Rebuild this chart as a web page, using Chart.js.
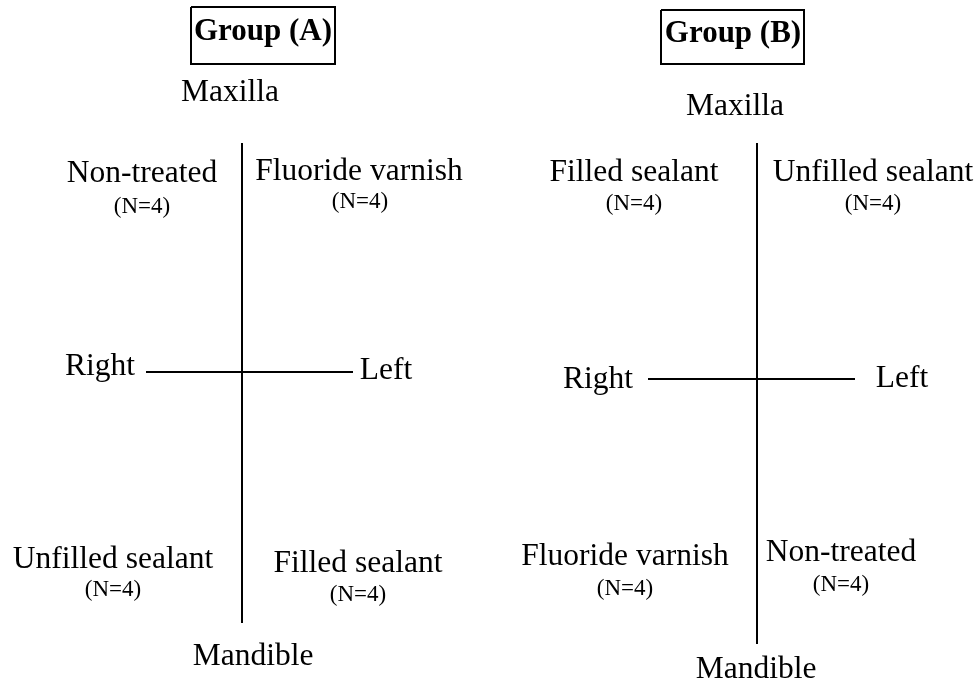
<!DOCTYPE html>
<html>
<head>
<meta charset="utf-8">
<script src="https://cdn.jsdelivr.net/npm/chart.js@4"></script>
<style>
  body { margin: 0; background: #fff; }
  canvas { display: block; }
</style>
</head>
<body>
<canvas id="canvas" width="979" height="682"></canvas>
<script>
// diagram space = the picture, x 0..979, y 0..682 (y counted downwards)

// the two crosses (Maxilla/Mandible vertical, Right/Left horizontal)
var crossA = { vx: 242, vTop: 143, vBottom: 623, hy: 372, hLeft: 146, hRight: 353 };
var crossB = { vx: 757, vTop: 143, vBottom: 644, hy: 379, hLeft: 648, hRight: 855 };

// boxes around group titles [left, top, right, bottom]
var boxA = [191, 7, 335, 64];
var boxB = [661, 10, 804, 64];

// titles
var titleTexts = ['Group (A)', 'Group (B)'];
var titleX = [263, 733];
var titleY = [40, 42];

// big labels (text, centre x, baseline y)
var labelTexts = [
  'Maxilla', 'Non-treated', 'Fluoride varnish', 'Right', 'Left', 'Unfilled sealant', 'Filled sealant', 'Mandible',
  'Maxilla', 'Filled sealant', 'Unfilled sealant', 'Right', 'Left', 'Fluoride varnish', 'Non-treated', 'Mandible'
];
var labelX = [230, 142, 359, 100, 386, 113, 358, 253,
              735, 634, 873, 598, 902, 625, 841, 756];
var labelY = [101, 182, 180, 375, 379, 568, 572, 665,
              115, 181, 181, 388, 387, 565, 561, 678];

// group sizes under each treatment
var nTexts = ['(N=4)', '(N=4)', '(N=4)', '(N=4)', '(N=4)', '(N=4)', '(N=4)', '(N=4)'];
var nX = [142, 360, 113, 358, 634, 873, 625, 841];
var nY = [213, 208, 596, 601, 210, 210, 595, 591];

function segmento(x1, y1, x2, y2) {
  return [{ x: x1, y: y1 }, { x: x2, y: y2 }];
}
function caja(b) {
  return [{ x: b[0], y: b[1] }, { x: b[2], y: b[1] }, { x: b[2], y: b[3] }, { x: b[0], y: b[3] }, { x: b[0], y: b[1] }];
}

var trazos = [
  segmento(crossA.vx, crossA.vTop, crossA.vx, crossA.vBottom),
  segmento(crossA.hLeft, crossA.hy, crossA.hRight, crossA.hy),
  segmento(crossB.vx, crossB.vTop, crossB.vx, crossB.vBottom),
  segmento(crossB.hLeft, crossB.hy, crossB.hRight, crossB.hy),
  caja(boxA),
  caja(boxB)
];

var datasets = trazos.map(function (pts) {
  return {
    data: pts,
    showLine: true,
    borderColor: '#000',
    borderWidth: 2,
    pointRadius: 0,
    fill: false,
    tension: 0
  };
});

//Plugin para escribir los textos en coordenadas del diagrama
var textos = {
  id: 'textos',
  afterDatasetsDraw: function (chart) {
    var ctx = chart.ctx;
    var sx = chart.scales.x, sy = chart.scales.y;
    ctx.save();
    ctx.fillStyle = '#000';
    ctx.textAlign = 'center';
    ctx.textBaseline = 'alphabetic';

    ctx.font = 'bold 31px "Liberation Serif", "Times New Roman", serif';
    for (var i = 0; i < titleTexts.length; i++) {
      ctx.fillText(titleTexts[i], sx.getPixelForValue(titleX[i]), sy.getPixelForValue(titleY[i]));
    }

    ctx.font = '31.5px "Liberation Serif", "Times New Roman", serif';
    for (var j = 0; j < labelTexts.length; j++) {
      ctx.fillText(labelTexts[j], sx.getPixelForValue(labelX[j]), sy.getPixelForValue(labelY[j]));
    }

    ctx.font = '23px "Liberation Serif", "Times New Roman", serif';
    for (var k = 0; k < nTexts.length; k++) {
      ctx.fillText(nTexts[k], sx.getPixelForValue(nX[k]), sy.getPixelForValue(nY[k]));
    }
    ctx.restore();
  }
};

var ctx = document.getElementById('canvas').getContext('2d');
window.diagrama = new Chart(ctx, {
  type: 'scatter',
  data: { datasets: datasets },
  options: {
    responsive: false,
    animation: false,
    layout: { padding: 0 },
    plugins: {
      legend: { display: false },
      tooltip: { enabled: false }
    },
    scales: {
      x: { type: 'linear', min: 0, max: 979, display: false },
      y: { type: 'linear', min: 0, max: 682, reverse: true, display: false }
    }
  },
  plugins: [textos]
});
</script>
</body>
</html>
